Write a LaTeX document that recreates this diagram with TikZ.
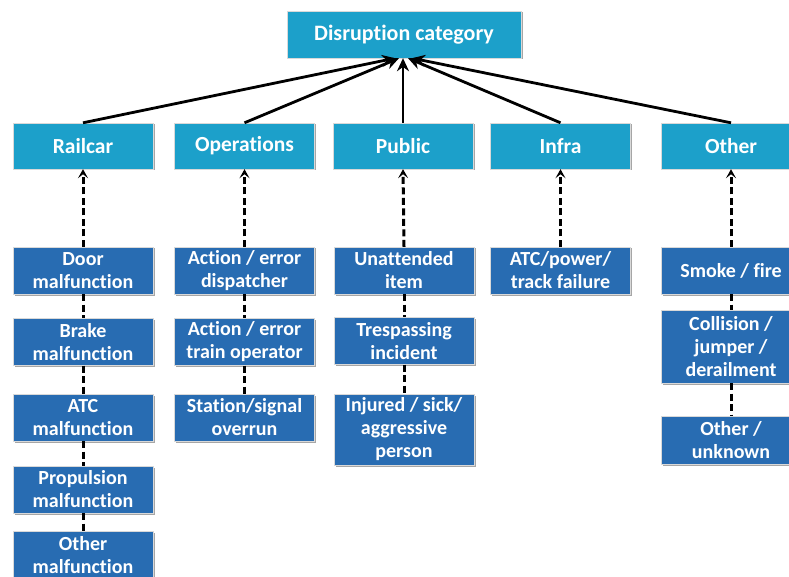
\documentclass[tikz,border=0pt]{standalone}
\usepackage{fontspec}
\setmainfont{Carlito}[Ligatures={NoCommon,NoRare}]
\usetikzlibrary{arrows.meta,shadows}

\definecolor{catcyan}{RGB}{28,160,202}
\definecolor{subblue}{RGB}{40,108,178}

\tikzset{
  boxbase/.style={rectangle, inner sep=0pt, align=center, text=white,
    draw=white!85!black, line width=0.4pt,
    drop shadow={shadow xshift=1.5pt, shadow yshift=-1.5pt, fill=black, opacity=0.35}},
  topbox/.style={boxbase, fill=catcyan, minimum width=234pt, minimum height=47pt,
    font=\fontsize{22}{26}\selectfont\bfseries},
  catbox/.style={boxbase, fill=catcyan, minimum width=140pt, minimum height=46pt,
    font=\fontsize{21.5}{25}\selectfont\bfseries},
  subbox/.style={boxbase, fill=subblue, minimum width=140pt, minimum height=47pt,
    font=\fontsize{20}{23}\selectfont\bfseries},
  mainarrow/.style={line width=2.8pt, -{Stealth[length=13pt,width=12pt]}},
  linkarrow/.style={line width=3pt, dash pattern=on 7pt off 3.5pt,
    -{Stealth[length=9pt,width=10pt,inset=4pt]}},
  linkline/.style={line width=3pt, dash pattern=on 7pt off 3.5pt},
}

\begin{document}
\begin{tikzpicture}[x=1pt,y=-1pt]
  \clip (0,0) rectangle (789,577);
  \fill[white] (0,0) rectangle (789,577);

  % root
  \node[topbox] (top) at (404,34.5) {Disruption category};

  % categories
  \node[catbox] (rail)  at (83,146)    {Railcar};
  \node[catbox] (oper)  at (244.5,146) {Operations};
  \node[catbox] (pub)   at (403,146)   {Public};
  \node[catbox] (infra) at (560.5,146) {Infra};
  \node[catbox] (oth)   at (731,146)   {Other};

  % railcar causes
  \node[subbox] (r1) at (83,270.5) {Door\\malfunction};
  \node[subbox] (r2) at (83,342)   {Brake\\malfunction};
  \node[subbox] (r3) at (83,417.5) {ATC\\malfunction};
  \node[subbox] (r4) at (83,489.5) {Propulsion\\malfunction};
  \node[subbox] (r5) at (83,555) {Other\\malfunction};

  % operations causes
  \node[subbox] (o1) at (244.5,270.5) {Action / error\\dispatcher};
  \node[subbox] (o2) at (244.5,342)   {Action / error\\train operator};
  \node[subbox] (o3) at (244.5,417.5) {Station/signal\\overrun};

  % public causes
  \node[subbox] (p1) at (404,270.5) {Unattended\\item};
  \node[subbox] (p2) at (404,341)   {Trespassing\\incident};
  \node[subbox, minimum height=71pt] (p3) at (404,429.5) {Injured / sick/\\aggressive\\person};

  % infrastructure causes
  \node[subbox] (i1) at (560.5,270.5) {ATC/power/\\track failure};

  % other causes
  \node[subbox] (x1) at (731,270.5) {Smoke / fire};
  \node[subbox, minimum height=73pt] (x2) at (731,346.5) {Collision /\\jumper /\\derailment};
  \node[subbox, minimum height=48pt] (x3) at (731,440) {Other /\\unknown};

  % categories to root
  \draw[mainarrow] (rail.north)  -- ([xshift=-9pt]top.south);
  \draw[mainarrow] (oper.north)  -- ([xshift=-5pt]top.south);
  \draw[mainarrow] (pub.north)   -- ([xshift=-1pt]top.south);
  \draw[mainarrow] (infra.north) -- ([xshift=4pt]top.south);
  \draw[mainarrow] (oth.north)   -- ([xshift=8pt]top.south);

  % causes to categories
  \draw[linkarrow] (r1.north) -- (rail.south);
  \draw[linkarrow] (o1.north) -- (oper.south);
  \draw[linkarrow] (p1.north) -- (pub.south);
  \draw[linkarrow] (i1.north) -- (infra.south);
  \draw[linkarrow] (x1.north) -- (oth.south);

  % chains within each column
  \draw[linkline] (r1.south) -- (r2.north);
  \draw[linkline] (r2.south) -- (r3.north);
  \draw[linkline] (r3.south) -- (r4.north);
  \draw[linkline] (r4.south) -- (r5.north);
  \draw[linkline] (o1.south) -- (o2.north);
  \draw[linkline] (o2.south) -- (o3.north);
  \draw[linkline] (p1.south) -- (p2.north);
  \draw[linkline] (p2.south) -- (p3.north);
  \draw[linkline] (x1.south) -- (x2.north);
  \draw[linkline] (x2.south) -- (x3.north);
\end{tikzpicture}
\end{document}
